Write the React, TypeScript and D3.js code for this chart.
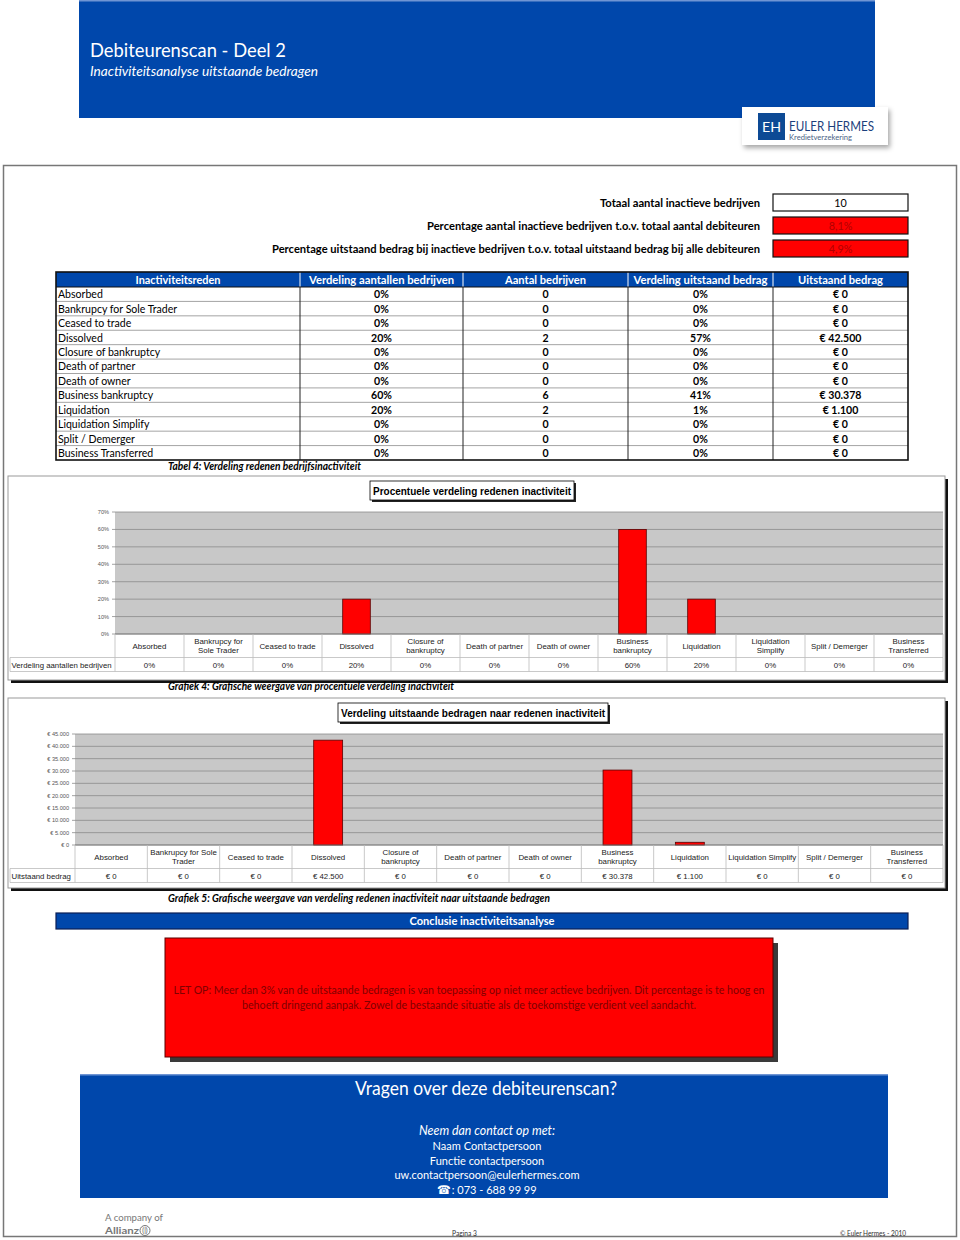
import React from 'react';
import * as d3 from 'd3';

const reasons = [
  'Absorbed', 'Bankrupcy for Sole Trader', 'Ceased to trade', 'Dissolved',
  'Closure of bankruptcy', 'Death of partner', 'Death of owner', 'Business bankruptcy',
  'Liquidation', 'Liquidation Simplify', 'Split / Demerger', 'Business Transferred',
];
const chart1Labels = [
  ['Absorbed'], ['Bankrupcy for', 'Sole Trader'], ['Ceased to trade'], ['Dissolved'],
  ['Closure of', 'bankruptcy'], ['Death of partner'], ['Death of owner'], ['Business', 'bankruptcy'],
  ['Liquidation'], ['Liquidation', 'Simplify'], ['Split / Demerger'], ['Business', 'Transferred'],
];
const chart2Labels = [
  ['Absorbed'], ['Bankrupcy for Sole', 'Trader'], ['Ceased to trade'], ['Dissolved'],
  ['Closure of', 'bankruptcy'], ['Death of partner'], ['Death of owner'], ['Business', 'bankruptcy'],
  ['Liquidation'], ['Liquidation Simplify'], ['Split / Demerger'], ['Business', 'Transferred'],
];
const countShare = [0, 0, 0, 20, 0, 0, 0, 60, 20, 0, 0, 0];
const counts = [0, 0, 0, 2, 0, 0, 0, 6, 2, 0, 0, 0];
const amountShare = [0, 0, 0, 57, 0, 0, 0, 41, 1, 0, 0, 0];
const amounts = [0, 0, 0, 42500, 0, 0, 0, 30378, 1100, 0, 0, 0];

const tableColumns = [
  'Inactiviteitsreden', 'Verdeling aantallen bedrijven', 'Aantal bedrijven',
  'Verdeling uitstaand bedrag', 'Uitstaand bedrag',
];
const summaryLabels = [
  'Totaal aantal inactieve bedrijven',
  'Percentage aantal inactieve bedrijven t.o.v. totaal aantal debiteuren',
  'Percentage uitstaand bedrag bij inactieve bedrijven t.o.v. totaal uitstaand bedrag bij alle debiteuren',
];
const summaryValues = ['10', '8,1%', '4,9%'];
const pctTicks = [0, 10, 20, 30, 40, 50, 60, 70];
const amountTicks = [0, 5000, 10000, 15000, 20000, 25000, 30000, 35000, 40000, 45000];
const conclusionLines = [
  'LET OP: Meer dan 3% van de uitstaande bedragen is van toepassing op niet meer actieve bedrijven. Dit percentage is te hoog en',
  'behoeft dringend aanpak. Zowel de bestaande situatie als de toekomstige verdient veel aandacht.',
];
const contactLines = [
  'Naam Contactpersoon', 'Functie contactpersoon', 'uw.contactpersoon@eulerhermes.com', '\u260E: 073 - 688 99 99',
];

const nl = d3.formatLocale({ decimal: ',', thousands: '.', grouping: [3], currency: ['€ ', ''] });
const eur = nl.format('$,.0f');
const pct = (v: number) => `${v}%`;

const BLUE = '#0047AB';
const RED = '#FF0000';
const HUM = "Lato, 'Open Sans', sans-serif";
const ARIAL = "'Liberation Sans', Arial, sans-serif";

// condensed text: horizontal squeeze of a humanist face
const CT = ({ x, y, sx = 0.86, anchor = 'start', size = 11.5, weight = 400, italic = false, fill = '#000', family = HUM, children }: any) => (
  <text transform={`translate(${x},${y}) scale(${sx},1)`} textAnchor={anchor} fontSize={size}
    fontWeight={weight} fontStyle={italic ? 'italic' : 'normal'} fill={fill} fontFamily={family}>
    {children}
  </text>
);

// text fitted to the width it takes on the page
const FT = ({ x, y, len, anchor = 'start', size = 12, weight = 400, italic = false, fill = '#000', family = HUM, children }: any) => (
  <text x={x} y={y} textLength={len} lengthAdjust="spacingAndGlyphs" textAnchor={anchor} fontSize={size}
    fontWeight={weight} fontStyle={italic ? 'italic' : 'normal'} fill={fill} fontFamily={family}>
    {children}
  </text>
);

interface ChartProps {
  top: number; bottom: number; title: string; titleX: number; titleW: number;
  px0: number; pTop: number; pBottom: number; ticks: number[]; tickFmt: (v: number) => string;
  values: number[]; labels: string[][]; rowHeader: string; rowValues: string[];
}

const BarChart = ({ top, bottom, title, titleX, titleW, px0, pTop, pBottom, ticks, tickFmt, values, labels, rowHeader, rowValues }: ChartProps) => {
  const px1 = 943;
  const idx = d3.range(values.length);
  const xCell = d3.scaleBand<number>().domain(idx).range([px0, px1]);
  const xBar = d3.scaleBand<number>().domain(idx).range([px0, px1]).paddingInner(0.6).paddingOuter(0.3);
  const y = d3.scaleLinear().domain([0, ticks[ticks.length - 1]]).range([pBottom, pTop]);
  const catBottom = pBottom + 23.5;
  const rowBottom = catBottom + 14;
  const catMid = (pBottom + catBottom) / 2;
  return (
    <g>
      <rect x={11} y={top + 3} width={937} height={bottom - top} fill="#111" />
      <rect x={8} y={top} width={937} height={bottom - top} fill="#fff" stroke="#999" strokeWidth={1} />
      <rect x={titleX + 2} y={top + 7} width={titleW} height={19} fill="#222" />
      <rect x={titleX} y={top + 5} width={titleW} height={19} fill="#fff" stroke="#000" strokeWidth={0.8} />
      <FT x={titleX + titleW / 2} y={top + 18.5} len={titleW - 6} anchor="middle" size={11} weight={700} family={ARIAL}>{title}</FT>
      <rect x={px0} y={pTop} width={px1 - px0} height={pBottom - pTop} fill="#C8C8C8" />
      {ticks.map(t => (
        <g key={t}>
          <line x1={px0 - 3} x2={px1} y1={y(t)} y2={y(t)} stroke="#8a8a8a" strokeWidth={0.8} />
          <text x={px0 - 6} y={y(t) + 2} textAnchor="end" fontSize={5.6} fill="#555" fontFamily={ARIAL}>{tickFmt(t)}</text>
        </g>
      ))}
      {idx.map(i => values[i] > 0 && (
        <rect key={i} x={xBar(i)} y={y(values[i])} width={xBar.bandwidth()} height={pBottom - y(values[i])}
          fill={RED} stroke="#5a0000" strokeWidth={0.8} />
      ))}
      <line x1={px0} x2={px1} y1={pBottom} y2={pBottom} stroke="#777" strokeWidth={0.8} />
      {/* data table under the plot */}
      <g stroke="#bbb" strokeWidth={0.8}>
        {idx.concat([values.length]).map(i => {
          const xx = i < values.length ? xCell(i)! : px1;
          return <line key={i} x1={xx} x2={xx} y1={pBottom} y2={rowBottom} />;
        })}
        <line x1={10} x2={px1} y1={catBottom} y2={catBottom} />
        <line x1={10} x2={px1} y1={rowBottom} y2={rowBottom} />
        <line x1={10} x2={10} y1={catBottom} y2={rowBottom} />
      </g>
      <text x={11.5} y={rowBottom - 4} fontSize={7.8} fill="#222" fontFamily={ARIAL}>{rowHeader}</text>
      {idx.map(i => {
        const cx = xCell(i)! + xCell.bandwidth() / 2;
        const lines = labels[i];
        return (
          <g key={i}>
            {lines.map((l, k) => (
              <text key={k} x={cx} y={catMid + 3 + (k - (lines.length - 1) / 2) * 9.2} textAnchor="middle"
                fontSize={7.9} fill="#222" fontFamily={ARIAL}>{l}</text>
            ))}
            <text x={cx} y={rowBottom - 4} textAnchor="middle" fontSize={7.8} fill="#222" fontFamily={ARIAL}>{rowValues[i]}</text>
          </g>
        );
      })}
    </g>
  );
};

const ReasonTable = () => {
  const edges = [56, 300, 463, 628, 773, 908];
  const top = 272, headH = 15, bottom = 460;
  const rowH = (bottom - top - headH) / reasons.length;
  const cols = [
    reasons,
    countShare.map(pct),
    counts.map(String),
    amountShare.map(pct),
    amounts.map(eur),
  ];
  const headLens = [85, 145, 81, 134, 85];
  return (
    <g>
      <rect x={edges[0]} y={top} width={edges[5] - edges[0]} height={headH} fill={BLUE} />
      {tableColumns.map((c, j) => (
        <FT key={c} x={(edges[j] + edges[j + 1]) / 2} y={top + 11.5} len={headLens[j]} anchor="middle"
          size={12} weight={700} fill="#fff">{c}</FT>
      ))}
      {reasons.map((_, i) => {
        const yy = top + headH + rowH * (i + 0.5) + 4.2;
        return (
          <g key={i}>
            {i > 0 && <line x1={edges[0]} x2={edges[5]} y1={top + headH + rowH * i} y2={top + headH + rowH * i} stroke="#9a9a9a" strokeWidth={0.9} />}
            <CT x={edges[0] + 2} y={yy} size={12} sx={0.88}>{cols[0][i]}</CT>
            {cols.slice(1).map((col, j) => (
              <CT key={j} x={(edges[j + 1] + edges[j + 2]) / 2} y={yy} anchor="middle" size={12} weight={700} sx={0.88}>{col[i]}</CT>
            ))}
          </g>
        );
      })}
      {edges.slice(1, 5).map(e => (
        <g key={e}>
          <line x1={e} x2={e} y1={top} y2={top + headH} stroke="#fff" strokeWidth={1} />
          <line x1={e} x2={e} y1={top + headH} y2={bottom} stroke="#222" strokeWidth={1} />
        </g>
      ))}
      <line x1={edges[0]} x2={edges[5]} y1={top + headH} y2={top + headH} stroke="#111" strokeWidth={1} />
      <rect x={edges[0]} y={top} width={edges[5] - edges[0]} height={bottom - top} fill="none" stroke="#111" strokeWidth={1.6} />
    </g>
  );
};

export default function App() {
  const summaryLens = [160, 333, 488];
  return (
    <div style={{ position: 'absolute', left: 0, top: 0 }}>
      <svg width={960} height={1240} viewBox="0 0 960 1240" style={{ display: 'block', background: '#fff' }}>
        <defs>
          <filter id="soft" x="-10%" y="-20%" width="130%" height="160%">
            <feDropShadow dx="2" dy="3" stdDeviation="2.5" floodColor="#000" floodOpacity="0.35" />
          </filter>
        </defs>

        {/* header band */}
        <rect x={79} y={0} width={796} height={118} fill={BLUE} />
        <rect x={79} y={0} width={796} height={1.5} fill="#6f95d4" />
        <FT x={90} y={57} len={196} size={20} fill="#fff">Debiteurenscan - Deel 2</FT>
        <FT x={90} y={76} len={228} size={14} italic fill="#fff">Inactiviteitsanalyse uitstaande bedragen</FT>

        {/* logo card */}
        <rect x={742} y={107} width={146} height={38} fill="#fff" filter="url(#soft)" />
        <rect x={758} y={113} width={27} height={27} fill="#0d4a95" />
        <FT x={771.5} y={131.5} len={19} anchor="middle" size={14} fill="#fff">EH</FT>
        <FT x={789} y={131} len={85} size={13} fill="#1c3f7c">EULER HERMES</FT>
        <FT x={789} y={139.5} len={63} size={7} fill="#4a5f86">Kredietverzekering</FT>

        {/* page frame */}
        <rect x={3.5} y={165.5} width={953} height={1071} fill="none" stroke="#777" strokeWidth={1.5} />

        {/* summary figures */}
        {summaryLabels.map((l, i) => {
          const by = 194 + i * 23;
          return (
            <g key={l}>
              <FT x={760} y={by + 13} len={summaryLens[i]} anchor="end" size={12} weight={700}>{l}</FT>
              <rect x={773} y={by} width={135} height={17} fill={i === 0 ? '#fff' : RED} stroke="#111" strokeWidth={1.2} />
              <CT x={840.5} y={by + 13} anchor="middle" size={12} sx={0.9} fill={i === 0 ? '#000' : '#b00000'}>{summaryValues[i]}</CT>
            </g>
          );
        })}

        <ReasonTable />
        <FT x={168} y={470} len={193} size={11} weight={700} italic>Tabel 4: Verdeling redenen bedrijfsinactiviteit</FT>

        <BarChart top={476} bottom={680} title="Procentuele verdeling redenen inactiviteit" titleX={370} titleW={204}
          px0={115} pTop={512} pBottom={634} ticks={pctTicks} tickFmt={pct}
          values={countShare} labels={chart1Labels} rowHeader="Verdeling aantallen bedrijven" rowValues={countShare.map(pct)} />
        <FT x={168} y={690} len={286} size={11} weight={700} italic>Grafiek 4: Grafische weergave van procentuele verdeling inactiviteit</FT>

        <BarChart top={698} bottom={888} title="Verdeling uitstaande bedragen naar redenen inactiviteit" titleX={338} titleW={270}
          px0={75} pTop={734} pBottom={845} ticks={amountTicks} tickFmt={eur}
          values={amounts} labels={chart2Labels} rowHeader="Uitstaand bedrag" rowValues={amounts.map(eur)} />
        <FT x={168} y={902} len={382} size={11} weight={700} italic>Grafiek 5: Grafische weergave van verdeling redenen inactiviteit naar uitstaande bedragen</FT>

        {/* conclusion */}
        <rect x={56} y={913} width={852} height={16} fill={BLUE} stroke="#0a1f55" strokeWidth={1.2} />
        <FT x={482} y={925} len={145} anchor="middle" size={12} weight={700} fill="#fff">Conclusie inactiviteitsanalyse</FT>
        <rect x={170} y={943} width={608} height={119} fill="#3a3a3a" />
        <rect x={165} y={938} width={608} height={119} fill={RED} stroke="#5a0000" strokeWidth={1} />
        <FT x={469} y={994} len={591} anchor="middle" size={12} fill="#800000">{conclusionLines[0]}</FT>
        <FT x={469} y={1008.5} len={454} anchor="middle" size={12} fill="#800000">{conclusionLines[1]}</FT>

        {/* contact block */}
        <rect x={80} y={1074} width={808} height={124} fill={BLUE} />
        <rect x={80} y={1074} width={808} height={1.5} fill="#6f95d4" />
        <FT x={486} y={1095} len={262} anchor="middle" size={19} fill="#fff">Vragen over deze debiteurenscan?</FT>
        <FT x={487} y={1135} len={136} anchor="middle" size={13} italic fill="#fff">Neem dan contact op met:</FT>
        {contactLines.map((l, i) => (
          <CT key={l} x={487} y={1150 + i * 14.5} anchor="middle" size={12} sx={0.92} fill="#fff">{l}</CT>
        ))}

        {/* footer */}
        <FT x={105} y={1221} len={58} size={10} fill="#777">A company of</FT>
        <FT x={105} y={1234} len={34} size={10} weight={700} fill="#777">Allianz</FT>
        <circle cx={145} cy={1230.5} r={5} fill="none" stroke="#777" strokeWidth={1} />
        <text x={145} y={1233} textAnchor="middle" fontSize={6.5} fontWeight={700} fill="#777" fontFamily={HUM}>(|)</text>
        <FT x={452} y={1236} len={25} size={7} fill="#333">Pagina 3</FT>
        <FT x={906} y={1236} len={66} anchor="end" size={7} fill="#333">© Euler Hermes - 2010</FT>
      </svg>
    </div>
  );
}
